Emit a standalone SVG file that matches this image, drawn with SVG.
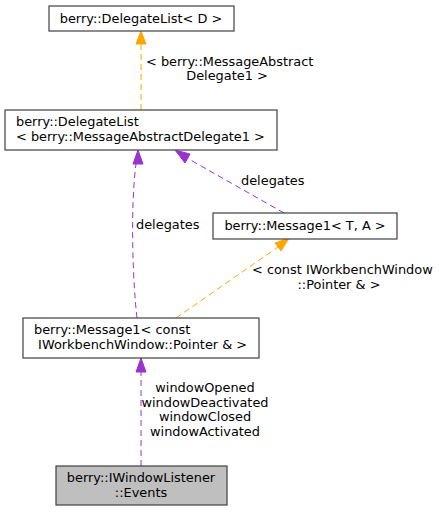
<svg xmlns="http://www.w3.org/2000/svg" width="439" height="512" viewBox="0 0 439 512">
<style>
text{font-family:"DejaVu Sans",sans-serif;font-size:12.9px;fill:#000}
.n{fill:#fff;stroke:#404040;stroke-width:1.2}
.g{fill:#bfbfbf;stroke:#404040;stroke-width:1.2}
.o{fill:none;stroke:#ffa500;stroke-width:1;stroke-dasharray:6,4}
.p{fill:none;stroke:#9a32cd;stroke-width:1;stroke-dasharray:6,4}
.oh{fill:#ffa500;stroke:#ffa500}
.ph{fill:#9a32cd;stroke:#9a32cd}
.m{text-anchor:middle}
</style>
<rect width="439" height="512" fill="#fff"/>
<g id="edges">
<path class="o" d="M141,110 L141,44"/>
<polygon class="oh" points="141,31 146,44 136,44"/>
<text x="146" y="66">&lt; berry::MessageAbstract</text>
<text class="m" x="227" y="80">Delegate1 &gt;</text>
<path class="p" d="M137,318 C133,285 130,210 136,164"/>
<polygon class="ph" points="138,150 143,164 133,164"/>
<text x="136" y="229">delegates</text>
<path class="p" d="M284,213 L187,158"/>
<polygon class="ph" points="175,150 190,154 185,163"/>
<text x="241" y="185">delegates</text>
<path class="o" d="M176,318 L278,247"/>
<polygon class="oh" points="289,238 281,251 275,243"/>
<text x="252" y="274">&lt; const IWorkbenchWindow</text>
<text class="m" x="339" y="289">::Pointer &amp; &gt;</text>
<path class="p" d="M141,466 L141,372"/>
<polygon class="ph" points="141,358 146,372 136,372"/>
<text class="m" x="205" y="392">windowOpened</text>
<text class="m" x="205" y="407">windowDeactivated</text>
<text class="m" x="205" y="421">windowClosed</text>
<text class="m" x="205" y="436">windowActivated</text>
</g>
<g id="node-delegatelist-d">
<rect class="n" x="49" y="6" width="185" height="25"/>
<text class="m" x="141" y="23">berry::DelegateList&lt; D &gt;</text>
</g>
<g id="node-delegatelist-mad1">
<rect class="n" x="5" y="110" width="272" height="40"/>
<text x="16" y="126">berry::DelegateList</text>
<text x="16" y="141">&lt; berry::MessageAbstractDelegate1 &gt;</text>
</g>
<g id="node-message1-ta">
<rect class="n" x="213" y="213" width="184" height="26"/>
<text class="m" x="305" y="230">berry::Message1&lt; T, A &gt;</text>
</g>
<g id="node-message1-const">
<rect class="n" x="23" y="318" width="236" height="40"/>
<text x="34" y="334">berry::Message1&lt; const</text>
<text x="34" y="349" xml:space="preserve"> IWorkbenchWindow::Pointer &amp; &gt;</text>
</g>
<g id="node-events">
<rect class="g" x="56" y="466" width="171" height="39"/>
<text class="m" x="141" y="482">berry::IWindowListener</text>
<text class="m" x="141" y="497">::Events</text>
</g>
</svg>
